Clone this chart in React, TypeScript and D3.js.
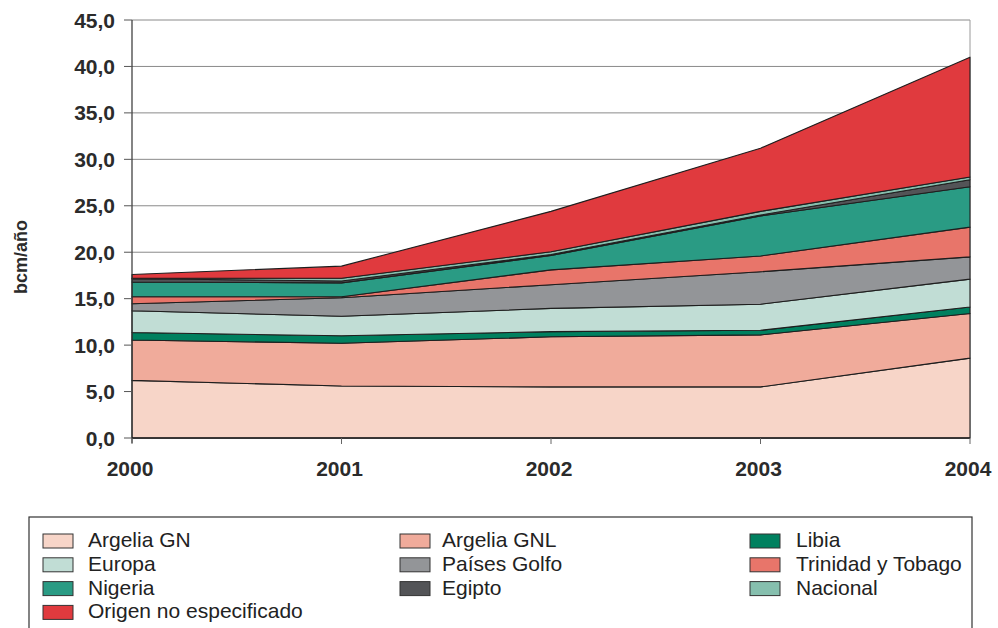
import React from "react";
import * as d3 from "d3";

const years = [2000, 2001, 2002, 2003, 2004];
const seriesNames = [
  "Argelia GN",
  "Argelia GNL",
  "Libia",
  "Europa",
  "Países Golfo",
  "Trinidad y Tobago",
  "Nigeria",
  "Egipto",
  "Nacional",
  "Origen no especificado",
];
const argeliaGN = [6.2, 5.6, 5.5, 5.5, 8.6];
const argeliaGNL = [4.35, 4.6, 5.4, 5.6, 4.8];
const libia = [0.8, 0.8, 0.55, 0.5, 0.7];
const europa = [2.35, 2.1, 2.5, 2.8, 3.0];
const paisesGolfo = [0.75, 2.0, 2.55, 3.5, 2.4];
const trinidad = [0.75, 0.1, 1.6, 1.7, 3.2];
const nigeria = [1.6, 1.5, 1.55, 4.3, 4.35];
const egipto = [0.35, 0.2, 0.1, 0.1, 0.75];
const nacional = [0.05, 0.3, 0.3, 0.4, 0.3];
const origen = [0.4, 1.3, 4.35, 6.8, 12.9];
const yTicks = [0, 5, 10, 15, 20, 25, 30, 35, 40, 45];

const colors = [
  "#f7d5c8",
  "#f0ab9b",
  "#00805f",
  "#c1ddd5",
  "#939598",
  "#e8756a",
  "#2a9b84",
  "#535457",
  "#86bfae",
  "#e03a3e",
];

const seriesValues = [
  argeliaGN,
  argeliaGNL,
  libia,
  europa,
  paisesGolfo,
  trinidad,
  nigeria,
  egipto,
  nacional,
  origen,
];

export default function App() {
  const W = 998;
  const H = 628;
  const left = 132;
  const right = 970;
  const top = 20;
  const bottom = 438;

  const x = d3.scaleLinear().domain([2000, 2004]).range([left, right]);
  const y = d3.scaleLinear().domain([0, 45]).range([bottom, top]);

  const table = years.map((yr, i) => {
    const row: any = { year: yr };
    seriesNames.forEach((n, k) => (row[n] = seriesValues[k][i]));
    return row;
  });
  const stacked = d3.stack().keys(seriesNames)(table as any);
  const area = d3
    .area<any>()
    .x((d) => x(d.data.year))
    .y0((d) => y(d[0]))
    .y1((d) => y(d[1]))
    .curve(d3.curveLinear);

  const fmt = (v: number) => v.toFixed(1).replace(".", ",");
  const tickFont = "'Liberation Sans', Arial, sans-serif";

  return (
    <svg
      width={W}
      height={H}
      style={{ position: "absolute", left: 0, top: 0, background: "#fff" }}
    >
      {/* gridlines */}
      {yTicks.map((t) => (
        <line
          key={"g" + t}
          x1={left}
          x2={right}
          y1={y(t)}
          y2={y(t)}
          stroke="#8a8a8a"
          strokeWidth={1}
        />
      ))}
      <line x1={right} x2={right} y1={top} y2={bottom} stroke="#9a9a9a" strokeWidth={1} />
      {/* areas */}
      {stacked.map((s, k) => (
        <path
          key={seriesNames[k]}
          d={area(s as any) || ""}
          fill={colors[k]}
          stroke="#1e1e1e"
          strokeWidth={1.1}
          strokeLinejoin="round"
        />
      ))}
      {/* y axis */}
      <line x1={left} x2={left} y1={top} y2={bottom + 5} stroke="#333" strokeWidth={1.2} />
      {yTicks.map((t) => (
        <g key={"t" + t}>
          <line x1={left - 8} x2={left} y1={y(t)} y2={y(t)} stroke="#555" strokeWidth={1} />
          <text
            x={115}
            y={y(t) + 7.5}
            textAnchor="end"
            fontFamily={tickFont}
            fontWeight="bold"
            fontSize={21}
            fill="#2b2b2b"
          >
            {fmt(t)}
          </text>
        </g>
      ))}
      {/* x axis */}
      <line x1={left} x2={right} y1={bottom} y2={bottom} stroke="#222" strokeWidth={1.3} />
      {years.map((yr) => (
        <g key={"x" + yr}>
          <line x1={x(yr)} x2={x(yr)} y1={bottom} y2={bottom + 6} stroke="#666" strokeWidth={1} />
          <text
            x={x(yr) - 2}
            y={476}
            textAnchor="middle"
            fontFamily={tickFont}
            fontWeight="bold"
            fontSize={21}
            fill="#2b2b2b"
          >
            {yr}
          </text>
        </g>
      ))}
      <text
        transform="translate(27,257) rotate(-90)"
        textAnchor="middle"
        fontFamily={tickFont}
        fontWeight="bold"
        fontSize={18}
        fill="#2b2b2b"
      >
        bcm/año
      </text>
      {/* legend */}
      <rect x={29} y={517} width={943} height={140} fill="none" stroke="#333" strokeWidth={1.2} />
      {seriesNames.map((n, i) => {
        const col = i % 3;
        const row = Math.floor(i / 3);
        const sx = [43, 400, 750][col];
        const tx = [88, 442, 796][col];
        const base = 547 + row * 23.8;
        return (
          <g key={"l" + n}>
            <rect
              x={sx}
              y={base - 13}
              width={30}
              height={14}
              fill={colors[i]}
              stroke="#333"
              strokeWidth={1}
            />
            <text
              x={tx}
              y={base}
              fontFamily={tickFont}
              fontSize={21}
              fill="#222"
            >
              {n}
            </text>
          </g>
        );
      })}
    </svg>
  );
}
